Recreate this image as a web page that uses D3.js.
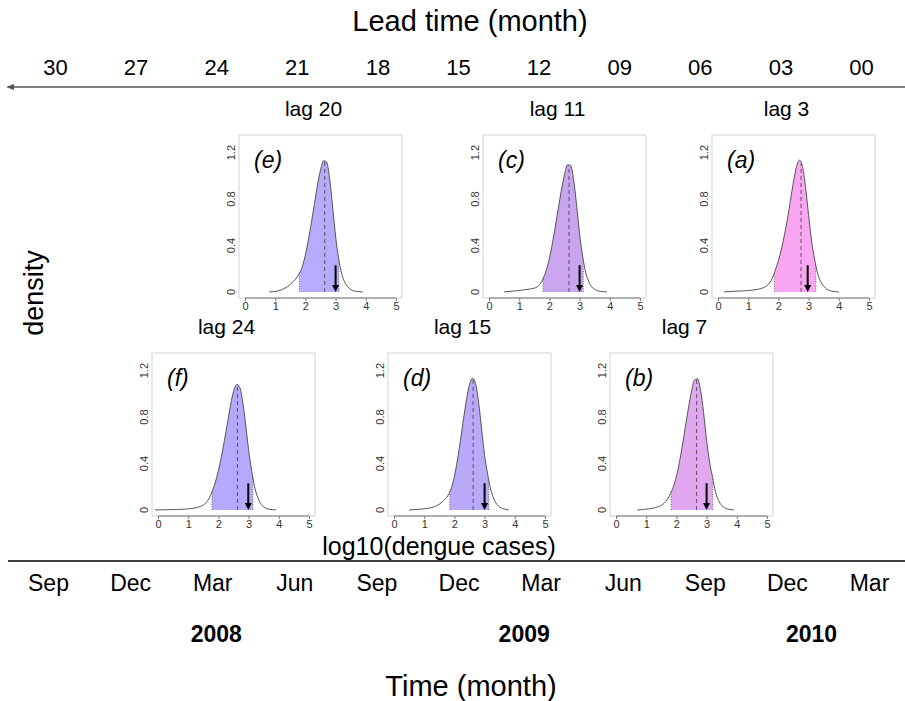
<!DOCTYPE html>
<html>
<head>
<meta charset="utf-8">
<script src="https://cdn.jsdelivr.net/npm/d3@7"></script>
<style>
  body { margin: 0; background: #fff; }
  svg text { font-family: "Liberation Sans", Arial, sans-serif; }
</style>
</head>
<body>
<div id="chart"></div>
<script>
// ---- data ----
var leadTicks = ['30', '27', '24', '21', '18', '15', '12', '09', '06', '03', '00'];
var leadValues = [30, 27, 24, 21, 18, 15, 12, 9, 6, 3, 0];
var monthLabels = ['Sep', 'Dec', 'Mar', 'Jun', 'Sep', 'Dec', 'Mar', 'Jun', 'Sep', 'Dec', 'Mar'];
var years = ['2008', '2009', '2010'];
var yearAt = [2.05, 5.8, 9.3];   // position on the month axis (index units)

var panelIds = ['f', 'e', 'd', 'c', 'b', 'a'];
var lags = [24, 20, 15, 11, 7, 3];
var fills = ['#b4aafb', '#b6acfd', '#b9a9f8', '#c9a5f0', '#e2a7f1', '#fba6f3'];
var lower = [1.79, 1.80, 1.85, 1.79, 1.83, 1.87];
var upper = [3.14, 3.11, 3.14, 3.12, 3.20, 3.24];
var median = [2.63, 2.64, 2.62, 2.65, 2.67, 2.75];
var observed = [2.99, 3.0, 3.0, 3.0, 3.0, 2.97];
var arrowTop = 0.23;

var logCases = [-0.1, 0.0, 0.1, 0.2, 0.3, 0.4, 0.5, 0.6, 0.7, 0.8, 0.9,
                1.0, 1.1, 1.2, 1.3, 1.4, 1.5, 1.6, 1.7, 1.8, 1.9,
                2.0, 2.1, 2.2, 2.3, 2.4, 2.5, 2.6, 2.7, 2.8, 2.9,
                3.0, 3.1, 3.2, 3.3, 3.4, 3.5, 3.6, 3.7, 3.8, 3.9, 4.0];

var densF = [0, 0.001, 0.001, 0.002, 0.002, 0.003, 0.003, 0.004, 0.005, 0.006, 0.007,
             0.009, 0.012, 0.016, 0.022, 0.03, 0.042, 0.065, 0.105, 0.165, 0.24,
             0.34, 0.46, 0.6, 0.75, 0.9, 1.02, 1.08, 1.06, 0.94, 0.74,
             0.52, 0.34, 0.2, 0.11, 0.055, 0.027, 0.013, 0.006, 0.002, 0, null];
var densE = [null, null, null, null, null, null, null, null, null, 0, 0.002,
             0.005, 0.01, 0.018, 0.03, 0.045, 0.065, 0.09, 0.12, 0.16, 0.22,
             0.32, 0.45, 0.6, 0.76, 0.92, 1.05, 1.13, 1.12, 0.98, 0.74,
             0.48, 0.29, 0.16, 0.085, 0.045, 0.022, 0.01, 0.005, 0.002, 0, null];
var densD = [null, null, null, null, null, null, 0, 0.002, 0.003, 0.005, 0.007,
             0.01, 0.013, 0.018, 0.025, 0.035, 0.05, 0.07, 0.095, 0.13, 0.19,
             0.29, 0.43, 0.6, 0.78, 0.95, 1.08, 1.135, 1.09, 0.93, 0.7,
             0.47, 0.31, 0.18, 0.1, 0.05, 0.025, 0.012, 0.005, 0, null, null];
var densC = [null, null, null, null, null, null, 0, 0.003, 0.005, 0.008, 0.01,
             0.013, 0.016, 0.02, 0.023, 0.027, 0.033, 0.045, 0.07, 0.12, 0.19,
             0.29, 0.42, 0.57, 0.73, 0.88, 1.01, 1.095, 1.09, 0.97, 0.75,
             0.5, 0.31, 0.17, 0.09, 0.045, 0.022, 0.01, 0.005, 0.002, 0, null];
var densB = [null, null, null, null, null, null, null, null, 0, 0.002, 0.004,
             0.007, 0.01, 0.014, 0.02, 0.028, 0.04, 0.06, 0.09, 0.14, 0.2,
             0.29, 0.41, 0.56, 0.72, 0.88, 1.02, 1.12, 1.13, 1.03, 0.84,
             0.6, 0.41, 0.28, 0.15, 0.08, 0.04, 0.018, 0.008, 0.003, 0, null];
var densA = [null, null, null, 0, 0.002, 0.004, 0.005, 0.007, 0.008, 0.009, 0.01,
             0.012, 0.015, 0.018, 0.022, 0.028, 0.036, 0.05, 0.075, 0.12, 0.19,
             0.27, 0.37, 0.49, 0.63, 0.79, 0.95, 1.08, 1.135, 1.08, 0.9,
             0.66, 0.44, 0.28, 0.16, 0.09, 0.05, 0.025, 0.012, 0.006, 0.002, 0];
var densities = [densF, densE, densD, densC, densB, densA];

// ---- layout ----
var W = 905, H = 701;
var boxSize = 163;
var boxPos = {
  f: [152, 353], e: [239, 135], d: [388, 353],
  c: [483, 135], b: [610, 353], a: [712, 135]
};
var FONT = '"Liberation Sans", Arial, sans-serif';

var svg = d3.select('#chart').append('svg')
    .attr('width', W)
    .attr('height', H);

svg.append('rect').attr('width', W).attr('height', H).attr('fill', '#fff');

// top: lead time axis
var lead = d3.scaleLinear().domain([30, 0]).range([55, 861]);

svg.append('text')
    .attr('x', 470).attr('y', 31)
    .attr('text-anchor', 'middle')
    .style('font-size', '29px')
    .text('Lead time (month)');

var topAxis = svg.append('g')
    .attr('transform', 'translate(0,87)')
    .call(d3.axisTop(lead).tickValues(leadValues)
        .tickFormat(function(d, i) { return leadTicks[i]; })
        .tickSize(0).tickPadding(12));
topAxis.select('.domain').remove();
topAxis.selectAll('text')
    .attr('fill', '#000')
    .style('font-size', '22px')
    .style('font-family', FONT);

svg.append('line')
    .attr('x1', 12).attr('x2', W).attr('y1', 87).attr('y2', 87)
    .attr('stroke', '#555').attr('stroke-width', 1.5);
svg.append('path')
    .attr('d', 'M6,87 L14,84 L14,90 Z')
    .attr('fill', '#555');

// panels
var x = d3.scaleLinear().domain([-0.2, 5.2]).range([0, boxSize]);
var y = d3.scaleLinear().domain([-0.052, 1.352]).range([boxSize, 0]);

var line = d3.line()
    .curve(d3.curveMonotoneX)
    .x(function(d) { return x(d[0]); })
    .y(function(d) { return y(d[1]); });

var area = d3.area()
    .curve(d3.curveMonotoneX)
    .x(function(d) { return x(d[0]); })
    .y0(y(0))
    .y1(function(d) { return y(d[1]); });

function densAt(pts, v) {
  for (var i = 0; i < pts.length - 1; i++) {
    if (pts[i][0] <= v && pts[i + 1][0] >= v) {
      var t = (v - pts[i][0]) / (pts[i + 1][0] - pts[i][0]);
      return pts[i][1] + t * (pts[i + 1][1] - pts[i][1]);
    }
  }
  return 0;
}

panelIds.forEach(function(id, k) {
  var pos = boxPos[id];
  var g = svg.append('g')
      .attr('class', 'panel')
      .attr('transform', 'translate(' + pos[0] + ',' + pos[1] + ')');

  var pts = logCases.map(function(v, i) { return [v, densities[k][i]]; })
      .filter(function(d) { return d[1] !== null; });

  // lag label
  svg.append('text')
      .attr('x', pos[0] + boxSize / 2 - 7)
      .attr('y', pos[1] - 19)
      .attr('text-anchor', 'middle')
      .style('font-size', '21px')
      .text('lag ' + lags[k]);

  g.append('rect')
      .attr('width', boxSize).attr('height', boxSize)
      .attr('fill', '#fff')
      .attr('stroke', '#d3d3d3');

  // shaded interval
  var lo = lower[k], hi = upper[k];
  var shade = [[lo, densAt(pts, lo)]]
      .concat(pts.filter(function(d) { return d[0] > lo && d[0] < hi; }))
      .concat([[hi, densAt(pts, hi)]]);
  g.append('path')
      .datum(shade)
      .attr('d', area)
      .attr('fill', fills[k]);

  [lo, hi].forEach(function(v) {
    g.append('line')
        .attr('x1', x(v)).attr('x2', x(v))
        .attr('y1', y(0)).attr('y2', y(densAt(pts, v)))
        .attr('stroke', '#666').attr('stroke-dasharray', '1,1.5');
  });

  g.append('line')
      .attr('x1', x(median[k])).attr('x2', x(median[k]))
      .attr('y1', y(0)).attr('y2', y(densAt(pts, median[k])))
      .attr('stroke', '#555').attr('stroke-dasharray', '4,3');

  g.append('path')
      .datum(pts)
      .attr('d', line)
      .attr('fill', 'none')
      .attr('stroke', '#555')
      .attr('stroke-width', 1);

  // observed value arrow
  var ox = x(observed[k]);
  g.append('line')
      .attr('x1', ox).attr('x2', ox)
      .attr('y1', y(arrowTop)).attr('y2', y(0) - 5)
      .attr('stroke', '#000').attr('stroke-width', 2);
  g.append('path')
      .attr('d', 'M' + ox + ',' + y(0) + ' L' + (ox - 3.5) + ',' + (y(0) - 7) + ' L' + (ox + 3.5) + ',' + (y(0) - 7) + ' Z')
      .attr('fill', '#000');

  // axes
  var xa = g.append('g')
      .attr('transform', 'translate(0,' + boxSize + ')')
      .call(d3.axisBottom(x).tickValues([0, 1, 2, 3, 4, 5])
          .tickFormat(d3.format('d')).tickSize(3).tickPadding(1));
  xa.select('.domain').attr('d', 'M' + x(0) + ',0H' + x(5)).attr('stroke', '#777');
  xa.selectAll('line').attr('stroke', '#777');
  xa.selectAll('text').style('font-size', '11px').attr('fill', '#333')
      .style('font-family', FONT);

  g.selectAll('.ytick')
      .data([0, 0.4, 0.8, 1.2])
      .enter().append('text')
      .attr('class', 'ytick')
      .attr('transform', function(d) { return 'translate(-8,' + y(d) + ') rotate(-90)'; })
      .attr('text-anchor', 'middle')
      .attr('dy', '0.35em')
      .style('font-size', '11px')
      .attr('fill', '#333')
      .text(function(d) { return d === 0 ? '0' : d3.format('.1f')(d); });

  g.append('text')
      .attr('x', 15).attr('y', 33)
      .style('font-size', '23px')
      .style('font-style', 'italic')
      .text('(' + id + ')');
});

svg.append('text')
    .attr('transform', 'translate(43,293) rotate(-90)')
    .attr('text-anchor', 'middle')
    .style('font-size', '27px')
    .text('density');

svg.append('text')
    .attr('x', 439).attr('y', 555)
    .attr('text-anchor', 'middle')
    .style('font-size', '25px')
    .text('log10(dengue cases)');

// bottom: calendar time axis
var month = d3.scaleLinear().domain([0, 10]).range([48, 869]);

svg.append('line')
    .attr('x1', 8).attr('x2', W).attr('y1', 561).attr('y2', 561)
    .attr('stroke', '#000').attr('stroke-width', 1.5);

var botAxis = svg.append('g')
    .attr('transform', 'translate(0,561)')
    .call(d3.axisBottom(month).tickValues(d3.range(monthLabels.length))
        .tickFormat(function(d) { return monthLabels[d]; })
        .tickSize(0).tickPadding(14));
botAxis.select('.domain').remove();
botAxis.selectAll('text')
    .attr('fill', '#000')
    .style('font-size', '23px')
    .style('font-family', FONT);

svg.selectAll('.year')
    .data(years)
    .enter().append('text')
    .attr('class', 'year')
    .attr('x', function(d, i) { return month(yearAt[i]); })
    .attr('y', 642)
    .attr('text-anchor', 'middle')
    .style('font-size', '23px')
    .style('font-weight', 'bold')
    .text(function(d) { return d; });

svg.append('text')
    .attr('x', 471).attr('y', 696)
    .attr('text-anchor', 'middle')
    .style('font-size', '29px')
    .text('Time (month)');
</script>
</body>
</html>
